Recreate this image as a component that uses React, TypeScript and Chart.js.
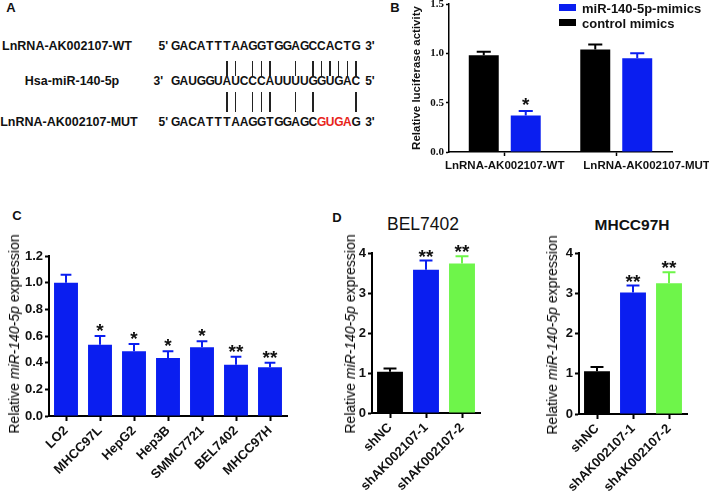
import React, { useEffect, useRef } from 'react';
import { Chart, registerables } from 'chart.js';
Chart.register(...registerables);

const SANS = '"Liberation Sans", Arial, Helvetica, sans-serif';
const SERIF = '"Liberation Serif", "Times New Roman", serif';
const BLUE = '#0a1ef0';
const GREEN = '#6ef54a';
const BLACK = '#000000';
const INK = '#111111';

// ---------- Panel A (sequence alignment) ----------
const seqWT = 'GACATTTAAGGTGGAGCCACTG';
const seqMiR = 'GAUGGUAUCCCAUUUUGGUGAC';
const seqMUT = 'GACATTTAAGGTGGAGCGUGAG';
const rowLabels = ['LnRNA-AK002107-WT', 'Hsa-miR-140-5p', 'LnRNA-AK002107-MUT'];
const rowPrefix = ["5'", "3'", "5'"];
const rowSuffix = ["3'", "5'", "3'"];

// ---------- Panel B (luciferase) ----------
const bCategories = ['LnRNA-AK002107-WT', 'LnRNA-AK002107-MUT'];
const bSeriesNames = ['control mimics', 'miR-140-5p-mimics'];
const bControl = [0.98, 1.04];
const bControlErr = [0.035, 0.05];
const bControlSig = ['', ''];
const bMimics = [0.37, 0.95];
const bMimicsErr = [0.045, 0.05];
const bMimicsSig = ['*', ''];
const bTicks = [0, 0.5, 1.0, 1.5];

// ---------- Panel C (cell lines) ----------
const cCategories = ['LO2', 'MHCC97L', 'HepG2', 'Hep3B', 'SMMC7721', 'BEL7402', 'MHCC97H'];
const cValues = [1.0, 0.535, 0.485, 0.435, 0.515, 0.385, 0.365];
const cErrors = [0.06, 0.065, 0.055, 0.05, 0.045, 0.06, 0.035];
const cSig = ['', '*', '*', '*', '*', '**', '**'];
const cTicks = [0, 0.2, 0.4, 0.6, 0.8, 1.0, 1.2];

// ---------- Panel D (knockdown) ----------
const dCategories = ['shNC', 'shAK002107-1', 'shAK002107-2'];
const dColors = [BLACK, BLUE, GREEN];
const dBelValues = [1.03, 3.58, 3.74];
const dBelErrors = [0.08, 0.23, 0.18];
const dBelSig = ['', '**', '**'];
const dMhValues = [1.06, 3.02, 3.25];
const dMhErrors = [0.11, 0.17, 0.27];
const dMhSig = ['', '**', '**'];
const dTicks = [0, 1, 2, 3, 4];

const errorBarPlugin: any = {
  id: 'errorBars',
  afterDatasetsDraw(chart: any, _args: any, opts: any) {
    const ctx = chart.ctx;
    const yScale = chart.scales.y;
    chart.data.datasets.forEach((ds: any, di: number) => {
      const meta = chart.getDatasetMeta(di);
      if (!meta.visible) return;
      meta.data.forEach((bar: any, i: number) => {
        const v = ds.data[i];
        const e = ds.errors ? ds.errors[i] : 0;
        const color = Array.isArray(ds.backgroundColor) ? ds.backgroundColor[i] : ds.backgroundColor;
        const p = bar.getProps(['x', 'y', 'width'], true);
        const yTop = yScale.getPixelForValue(v + e);
        const cap = p.width * opts.capRatio;
        ctx.save();
        ctx.strokeStyle = color;
        ctx.lineWidth = opts.lineWidth;
        ctx.beginPath();
        ctx.moveTo(p.x, p.y);
        ctx.lineTo(p.x, yTop);
        ctx.moveTo(p.x - cap / 2, yTop);
        ctx.lineTo(p.x + cap / 2, yTop);
        ctx.stroke();
        const s = ds.sig ? ds.sig[i] : '';
        if (s) {
          ctx.fillStyle = INK;
          ctx.font = opts.starFont;
          ctx.textAlign = 'center';
          ctx.textBaseline = 'alphabetic';
          ctx.fillText(s, p.x, yTop - opts.starGap);
        }
        ctx.restore();
      });
    });
  },
};

function makeConfig(o: any): any {
  return {
    type: 'bar',
    data: { labels: o.labels, datasets: o.datasets },
    plugins: [errorBarPlugin],
    options: {
      responsive: false,
      animation: false,
      events: [],
      layout: { padding: o.padding },
      datasets: { bar: { categoryPercentage: o.catPct, barPercentage: o.barPct, borderWidth: 0 } },
      plugins: {
        legend: { display: false },
        tooltip: { enabled: false },
        title: { display: false },
        errorBars: { capRatio: o.capRatio, lineWidth: o.errWidth, starFont: o.starFont, starGap: o.starGap },
      },
      scales: {
        x: {
          type: 'category',
          offset: true,
          afterFit: (s: any) => { s.height = o.xHeight; },
          grid: { display: true, offset: false, drawOnChartArea: false, drawTicks: true, tickLength: o.xTickLen, tickWidth: o.axisWidth, tickColor: BLACK },
          border: { display: true, color: BLACK, width: o.axisWidth },
          ticks: {
            autoSkip: false,
            maxRotation: o.rotation,
            minRotation: o.rotation,
            padding: o.xPad,
            color: INK,
            font: o.xFont,
            callback: (_v: any, i: number) => (o.xLabelFn ? o.xLabelFn(o.labels[i], i) : o.labels[i]),
          },
        },
        y: {
          min: o.yTicks[0],
          max: o.yTicks[o.yTicks.length - 1],
          afterFit: (s: any) => { s.width = o.yWidth; },
          afterBuildTicks: (s: any) => { s.ticks = o.yTicks.map((v: number) => ({ value: v })); },
          grid: { display: true, drawOnChartArea: false, drawTicks: true, tickLength: o.yTickLen, tickWidth: o.axisWidth, tickColor: BLACK },
          border: { display: true, color: BLACK, width: o.axisWidth },
          ticks: { padding: o.yPad, color: INK, font: o.yFont, callback: (v: any) => o.yFmt(Number(v)) },
          title: o.yTitle
            ? { display: true, text: o.yTitle, color: INK, font: o.yTitleFont, padding: { top: o.yTitlePad, bottom: 0 } }
            : { display: false },
        },
      },
    },
  };
}

function ChartCanvas({ left, top, width, height, build }: any) {
  const ref = useRef<HTMLCanvasElement>(null);
  useEffect(() => {
    const chart = new Chart(ref.current as HTMLCanvasElement, build());
    return () => chart.destroy();
  }, []);
  return (
    <canvas
      ref={ref}
      width={width}
      height={height}
      style={{ position: 'absolute', left, top, width, height, display: 'block' }}
    />
  );
}

function Txt({ x, y, anchor = 'center', size = 13, weight = 'bold', family = SANS, color = INK, rotate = 0, children }: any) {
  const tx = anchor === 'center' ? '-50%' : anchor === 'right' ? '-100%' : '0';
  return (
    <div
      style={{
        position: 'absolute',
        left: x,
        top: y,
        transform: `translate(${tx}, -50%) rotate(${rotate}deg)`,
        fontFamily: family,
        fontSize: size,
        fontWeight: weight,
        color,
        lineHeight: 1,
        whiteSpace: 'nowrap',
      }}
    >
      {children}
    </div>
  );
}

const PITCH = 8.6;
const SEQ_X = 171;

function pairs(a: string, b: string) {
  return (
    (a === 'A' && b === 'U') ||
    ((a === 'T' || a === 'U') && b === 'A') ||
    (a === 'G' && b === 'C') ||
    (a === 'C' && b === 'G')
  );
}

function SeqRow({ seq, y, ref0 }: any) {
  return (
    <div style={{ position: 'absolute', left: SEQ_X, top: y, transform: 'translateY(-50%)', display: 'flex', lineHeight: 1 }}>
      {seq.split('').map((ch: string, i: number) => (
        <span
          key={i}
          style={{
            display: 'inline-block',
            width: PITCH,
            textAlign: 'center',
            fontFamily: SANS,
            fontWeight: 'bold',
            fontSize: 12,
            color: ref0 && ref0[i] !== ch ? '#e8241a' : INK,
          }}
        >
          {ch}
        </span>
      ))}
    </div>
  );
}

function PanelA() {
  const rowsY = [46, 81, 122];
  const labelX = [67, 72, 69];
  const prefixX = [168, 163, 168];
  const upper = seqWT.split('').map((c, i) => (pairs(c, seqMiR[i]) ? i : -1)).filter((i) => i >= 0);
  const lower = seqMUT.split('').map((c, i) => (pairs(c, seqMiR[i]) ? i : -1)).filter((i) => i >= 0);
  const seqs = [seqWT, seqMiR, seqMUT];
  return (
    <>
      <Txt x={11} y={7} size={13}>A</Txt>
      {rowLabels.map((l, k) => (
        <Txt key={'l' + k} x={labelX[k]} y={rowsY[k]} size={12.5}>{l}</Txt>
      ))}
      {rowPrefix.map((p, k) => (
        <Txt key={'p' + k} x={prefixX[k]} y={rowsY[k]} anchor="right" size={12}>{p}</Txt>
      ))}
      {rowSuffix.map((p, k) => (
        <Txt key={'s' + k} x={SEQ_X + PITCH * 22 + 5} y={rowsY[k]} anchor="left" size={12}>{p}</Txt>
      ))}
      {seqs.map((s, k) => (
        <SeqRow key={'r' + k} seq={s} y={rowsY[k]} ref0={k === 2 ? seqWT : null} />
      ))}
      {upper.map((i) => (
        <div key={'u' + i} style={{ position: 'absolute', left: SEQ_X + PITCH * (i + 0.5) - 0.75, top: 61, width: 1.5, height: 15, background: '#222' }} />
      ))}
      {lower.map((i) => (
        <div key={'d' + i} style={{ position: 'absolute', left: SEQ_X + PITCH * (i + 0.5) - 0.75, top: 92, width: 1.5, height: 20, background: '#222' }} />
      ))}
    </>
  );
}

const MUT_PAD = '\u2003\u2003\u2003\u2003\u2003 ';

function buildB() {
  return makeConfig({
    labels: bCategories,
    datasets: [
      { label: bSeriesNames[0], data: bControl, errors: bControlErr, sig: bControlSig, backgroundColor: BLACK },
      { label: bSeriesNames[1], data: bMimics, errors: bMimicsErr, sig: bMimicsSig, backgroundColor: BLUE },
    ],
    padding: { top: 10, right: 68, left: 0, bottom: 0 },
    yWidth: 49,
    xHeight: 33,
    catPct: 0.753,
    barPct: 0.714,
    capRatio: 0.47,
    errWidth: 2,
    starFont: `bold 19px ${SANS}`,
    starGap: 0,
    axisWidth: 1.5,
    xTickLen: 4,
    yTickLen: 3,
    xPad: 3,
    yPad: 2,
    rotation: 0,
    xFont: { family: SANS, size: 11.5, weight: 'bold' },
    yFont: { family: SERIF, size: 11, weight: 'bold' },
    yTicks: bTicks,
    yFmt: (v: number) => v.toFixed(1),
    xLabelFn: (l: string, i: number) => (i === 1 ? MUT_PAD + l : l),
    yTitle: 'Relative luciferase activity',
    yTitleFont: { family: SANS, size: 11.5, weight: 'bold' },
    yTitlePad: 10,
  });
}

function buildC() {
  return makeConfig({
    labels: cCategories,
    datasets: [{ label: 'miR-140-5p', data: cValues, errors: cErrors, sig: cSig, backgroundColor: BLUE }],
    padding: { top: 16, right: 13, left: 0, bottom: 0 },
    yWidth: 49,
    xHeight: 76,
    catPct: 0.8,
    barPct: 0.88,
    capRatio: 0.45,
    errWidth: 2,
    starFont: `bold 19px ${SANS}`,
    starGap: -1,
    axisWidth: 2,
    xTickLen: 5,
    yTickLen: 4,
    xPad: 2,
    yPad: 2,
    rotation: 45,
    xFont: { family: SANS, size: 13, weight: 'bold' },
    yFont: { family: SANS, size: 13, weight: 'bold' },
    yTicks: cTicks,
    yFmt: (v: number) => v.toFixed(1),
  });
}

function buildD(values: number[], errors: number[], sig: string[], yWidth: number, xHeight: number, padRight: number) {
  return () =>
    makeConfig({
      labels: dCategories,
      datasets: [{ label: 'miR-140-5p', data: values, errors, sig, backgroundColor: dColors }],
      padding: { top: 18, right: padRight, left: 0, bottom: 0 },
      yWidth,
      xHeight,
      catPct: 0.8,
      barPct: 0.9,
      capRatio: 0.5,
      errWidth: 2,
      starFont: `bold 19px ${SANS}`,
      starGap: -2,
      axisWidth: 2,
      xTickLen: 5,
      yTickLen: 4,
      xPad: 2,
      yPad: 2,
      rotation: 45,
      xFont: { family: SANS, size: 13, weight: 'bold' },
      yFont: { family: SANS, size: 13, weight: 'bold' },
      yTicks: dTicks,
      yFmt: (v: number) => String(v),
    });
}

function YTitleMir({ x, y }: any) {
  return (
    <Txt x={x} y={y} rotate={-90} size={14} weight="normal" color="#000">
      Relative <i>miR-140-5p</i> expression
    </Txt>
  );
}

export default function App() {
  const legendItems = [
    { name: bSeriesNames[1], color: BLUE },
    { name: bSeriesNames[0], color: BLACK },
  ];
  return (
    <div style={{ position: 'absolute', left: 0, top: 0, width: 709, height: 492, background: '#fff', overflow: 'hidden' }}>
      <PanelA />

      <Txt x={395} y={7} size={13}>B</Txt>
      <ChartCanvas left={400} top={-6} width={340} height={191} build={buildB} />
      {legendItems.map((it, k) => (
        <React.Fragment key={k}>
          <div style={{ position: 'absolute', left: 559, top: 4 + k * 15, width: 17, height: 7, background: it.color }} />
          <Txt x={582} y={8 + k * 15} anchor="left" size={13}>{it.name}</Txt>
        </React.Fragment>
      ))}

      <Txt x={17} y={215} size={13}>C</Txt>
      <ChartCanvas left={0} top={240} width={300} height={252} build={buildC} />
      <YTitleMir x={14} y={334} />

      <Txt x={337} y={217} size={13}>D</Txt>
      <Txt x={423} y={225} size={17.5} weight="normal">BEL7402</Txt>
      <ChartCanvas left={345} top={235} width={150} height={257} build={buildD(dBelValues, dBelErrors, dBelSig, 27, 79, 15)} />
      <YTitleMir x={350} y={334} />

      <Txt x={632} y={225} size={15.5}>MHCC97H</Txt>
      <ChartCanvas left={555} top={235} width={154} height={257} build={buildD(dMhValues, dMhErrors, dMhSig, 24, 78, 22)} />
      <YTitleMir x={552} y={335} />
    </div>
  );
}
